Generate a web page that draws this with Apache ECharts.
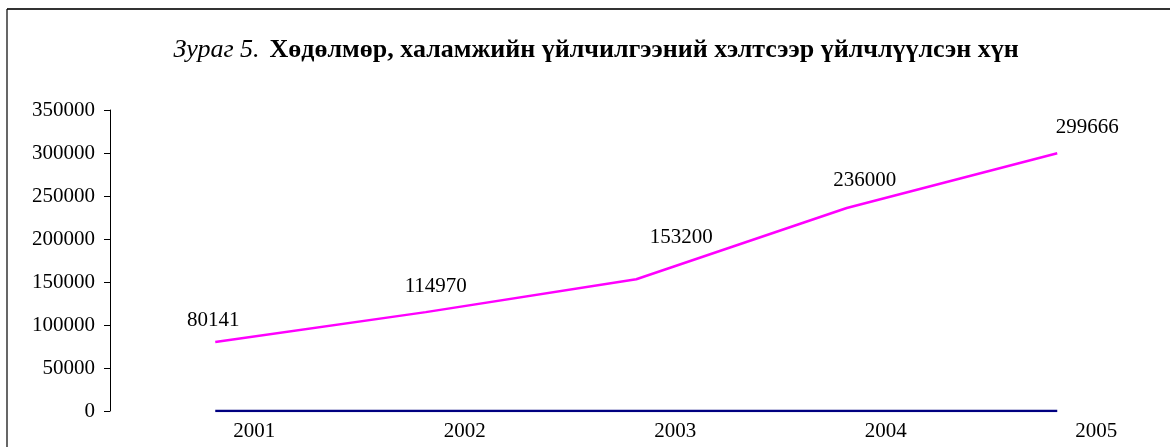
<!DOCTYPE html>
<html>
<head>
<meta charset="utf-8">
<script src="https://cdn.jsdelivr.net/npm/echarts@6/dist/echarts.min.js"></script>
<style>
html,body{margin:0;padding:0;background:#fff;}
#c{width:1170px;height:447px;}
</style>
</head>
<body>
<div id="c"></div>
<script>
var years = ['2001', '2002', '2003', '2004', '2005'];
var served = [80141, 114970, 153200, 236000, 299666];
var baseline = [0, 0, 0, 0, 0];
var yTicks = [0, 50000, 100000, 150000, 200000, 250000, 300000, 350000];

// label placement offsets (style only)
var labelOffsets = [[-2, -22], [10, -26], [45, -42], [18, -28], [30, -26]];

var FONT = '"Liberation Serif", "Times New Roman", serif';
var chart = echarts.init(document.getElementById('c'), null, {renderer: 'canvas'});

var servedData = served.map(function (v, i) {
  return {value: v, label: {offset: labelOffsets[i]}};
});

chart.setOption({
  animation: false,
  backgroundColor: '#fff',
  title: {
    text: '{i|Зураг 5.}  {b|Хөдөлмөр, халамжийн үйлчилгээний хэлтсээр үйлчлүүлсэн хүн}',
    left: 591,
    textAlign: 'center',
    top: 32,
    textStyle: {
      fontWeight: 'normal',
      rich: {
        i: {fontFamily: FONT, fontStyle: 'italic', fontWeight: 'normal', fontSize: 26, color: '#000'},
        b: {fontFamily: FONT, fontWeight: 'bold', fontSize: 26, color: '#000'}
      }
    }
  },
  graphic: [
    {type: 'line', shape: {x1: 7, y1: 9, x2: 1170, y2: 9}, style: {stroke: '#333', lineWidth: 2}},
    {type: 'line', shape: {x1: 7, y1: 9, x2: 7, y2: 447}, style: {stroke: '#000', lineWidth: 1.2}}
  ],
  grid: {left: 110, top: 110, right: 7.5, bottom: 36, containLabel: false},
  xAxis: {
    type: 'category',
    data: years,
    boundaryGap: true,
    axisLine: {show: false},
    axisTick: {show: false},
    axisLabel: {
      interval: 0,
      margin: 10,
      padding: [0, 0, 0, 78],
      fontFamily: FONT,
      fontSize: 21,
      color: '#000'
    },
    splitLine: {show: false}
  },
  yAxis: {
    type: 'value',
    min: yTicks[0],
    max: yTicks[yTicks.length - 1],
    interval: 50000,
    axisLine: {show: true, lineStyle: {color: '#000', width: 1}},
    axisTick: {show: true, inside: false, length: 6, lineStyle: {color: '#000'}},
    axisLabel: {
      margin: 15,
      fontFamily: FONT,
      fontSize: 21,
      color: '#000',
      formatter: function (v) { return String(v); }
    },
    splitLine: {show: false}
  },
  series: [
    {
      type: 'line',
      data: baseline,
      symbol: 'none',
      lineStyle: {color: '#000080', width: 2.5},
      z: 2
    },
    {
      type: 'line',
      data: servedData,
      symbol: 'circle',
      symbolSize: 1,
      itemStyle: {color: 'rgba(0,0,0,0)'},
      lineStyle: {color: '#ff00ff', width: 2.5},
      label: {
        show: true,
        position: 'inside',
        fontFamily: FONT,
        fontSize: 21,
        color: '#000'
      },
      z: 3
    }
  ]
});
</script>
</body>
</html>
